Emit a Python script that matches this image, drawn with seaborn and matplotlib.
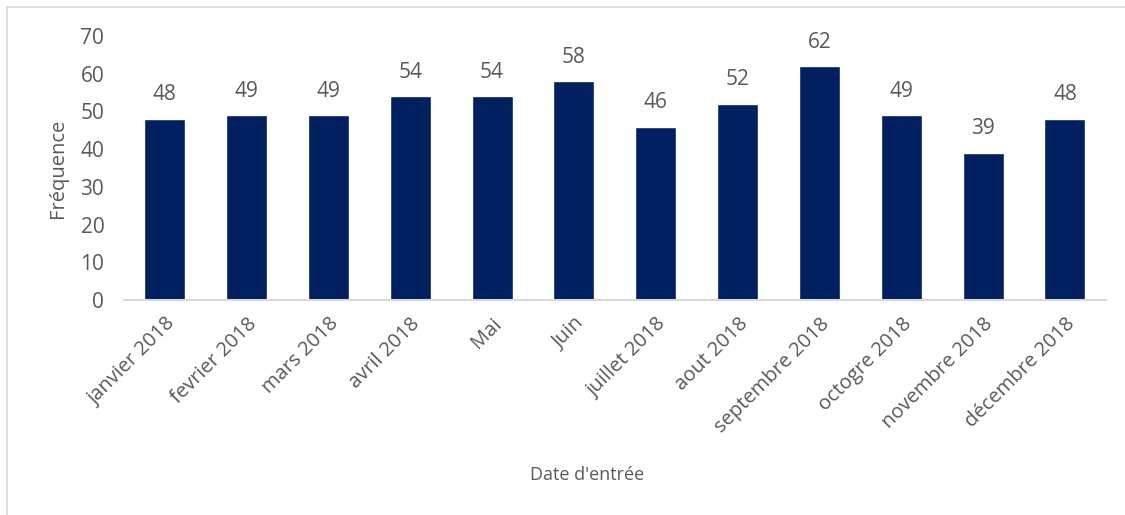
import matplotlib
matplotlib.use('Agg')
import matplotlib.pyplot as plt
import seaborn as sns
import pandas as pd
from matplotlib.lines import Line2D

# Data
mois = ['janvier 2018', 'fevrier 2018', 'mars 2018', 'avril 2018', 'Mai', 'Juin',
        'juillet 2018', 'aout 2018', 'septembre 2018', 'octogre 2018',
        'novembre 2018', 'décembre 2018']
frequence = [48, 49, 49, 54, 54, 58, 46, 52, 62, 49, 39, 48]

df = pd.DataFrame({'mois': mois, 'frequence': frequence})

sns.set_theme(style='white')
plt.rcParams['font.family'] = ['Open Sans', 'DejaVu Sans']
gris = '#595959'

fig = plt.figure(figsize=(11.25, 5.15), dpi=100)
ax = fig.add_axes([0.110, 0.4175, 0.873, 0.5125])

sns.barplot(data=df, x='mois', y='frequence', color='#002060', saturation=1,
            width=0.5, ax=ax)

for i, v in enumerate(frequence):
    ax.text(i, v + 3.6, str(v), ha='center', va='bottom', fontsize=15, color=gris)

ax.set_ylim(0, 70)
ax.set_yticks(range(0, 71, 10))
ax.set_xlim(-0.5, len(mois) - 0.5)
ax.tick_params(axis='y', labelsize=15, colors=gris, length=0, pad=14)
ax.tick_params(axis='x', labelsize=14.5, colors=gris, length=0, pad=10)
plt.setp(ax.get_xticklabels(), rotation=45, ha='right', rotation_mode='anchor')

for s in ['top', 'right', 'left']:
    ax.spines[s].set_visible(False)
ax.spines['bottom'].set_color('#d9d9d9')
ax.spines['bottom'].set_linewidth(1.5)

ax.set_ylabel('Fréquence', fontsize=14.5, color=gris, labelpad=9)
ax.set_xlabel('')
fig.text(0.522, 0.077, "Date d'entrée", ha='center', va='center', fontsize=13, color=gris)

# light border of the chart area
fig.add_artist(Line2D([0.0065, 0.0065], [0.0, 0.986], transform=fig.transFigure,
                      color='#d9d9d9', lw=1.2))
fig.add_artist(Line2D([0.0065, 1.0], [0.986, 0.986], transform=fig.transFigure,
                      color='#d9d9d9', lw=1.2))

fig.savefig('out.png', dpi=100, facecolor='white')
